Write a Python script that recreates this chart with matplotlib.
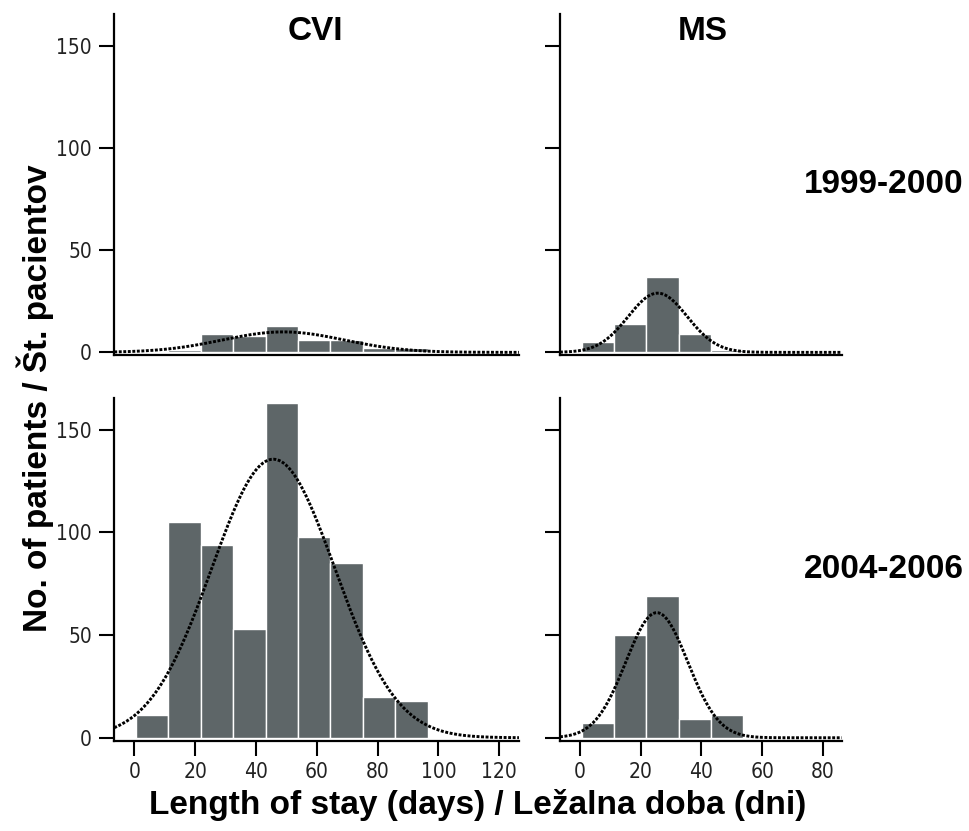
"""Length of stay histograms (CVI / MS, two periods) with normal-curve overlay."""

import numpy as np
import matplotlib
matplotlib.use("Agg")
import matplotlib.pyplot as plt
from matplotlib import rcParams, font_manager

rcParams["font.family"] = ["Liberation Sans", "DejaVu Sans"]

# bin edges shared by all panels (days)
BIN_START = 0.5
BIN_WIDTH = 10.667

# counts per bin
cvi_1999 = [0, 1, 9, 8, 13, 6, 6, 2, 2]
ms_1999 = [5, 14, 37, 9, 1]
cvi_2004 = [11, 105, 94, 53, 163, 98, 85, 20, 18]
ms_2004 = [7, 50, 69, 9, 11]

# normal fit (mean, sd)
fit_cvi_1999 = (49.0, 20.0)
fit_ms_1999 = (25.6, 9.7)
fit_cvi_2004 = (45.7, 20.3)
fit_ms_2004 = (25.3, 10.2)

col_titles = ["CVI", "MS"]
row_titles = ["1999-2000", "2004-2006"]
y_ticks = [0, 50, 100, 150]
x_ticks_cvi = [0, 20, 40, 60, 80, 100, 120]
x_ticks_ms = [0, 20, 40, 60, 80]

BAR_COLOR = "#5e6668"

# condensed face for tick numbers if one is installed
faces = font_manager.fontManager.ttflist
condensed = [f.name for f in faces if f.stretch in ("condensed", "semi-condensed")
             or "Narrow" in f.name or "Condensed" in f.name]
TICK_FONT = condensed[0] if condensed else "DejaVu Sans"


def panel(fig, rect, counts, fit, xlim, xticks, show_x, show_ylabels):
    ax = fig.add_axes(rect)
    edges = BIN_START + BIN_WIDTH * np.arange(len(counts) + 1)
    ax.bar(edges[:-1], counts, width=BIN_WIDTH, align="edge",
           color=BAR_COLOR, edgecolor="white", linewidth=1.0, zorder=2)

    mu, sd = fit
    n = sum(counts)
    xs = np.linspace(xlim[0], xlim[1], 400)
    ys = n * BIN_WIDTH * np.exp(-0.5 * ((xs - mu) / sd) ** 2) / (sd * np.sqrt(2 * np.pi))
    ax.plot(xs, ys, color="black", linewidth=2.1, linestyle=(0, (1.0, 0.55)), zorder=3)

    ax.set_xlim(*xlim)
    ax.set_ylim(-1.5, 165.5)
    ax.set_yticks(y_ticks)
    for side in ("top", "right"):
        ax.spines[side].set_visible(False)
    for side in ("left", "bottom"):
        ax.spines[side].set_linewidth(1.6)
    ax.tick_params(axis="both", direction="out", length=11, width=1.5,
                   labelsize=15)
    ax.tick_params(axis="y", pad=5)
    ax.tick_params(axis="x", pad=4)
    if show_x:
        ax.set_xticks(xticks)
    else:
        ax.set_xticks([])
    if not show_ylabels:
        ax.set_yticklabels([])
    for lab in ax.get_xticklabels() + ax.get_yticklabels():
        lab.set_fontfamily(TICK_FONT)
        lab.set_fontstretch("condensed")
        lab.set_color("#222222")
    return ax


fig = plt.figure(figsize=(9.7, 8.31), dpi=100)

left_l, left_w = 0.1178, 0.4172
right_l, right_w = 0.5773, 0.2904
top_b, top_h = 0.5723, 0.4109
bot_b, bot_h = 0.1085, 0.4127

panel(fig, [left_l, top_b, left_w, top_h], cvi_1999, fit_cvi_1999,
      (-6.6, 126.5), x_ticks_cvi, False, True)
panel(fig, [right_l, top_b, right_w, top_h], ms_1999, fit_ms_1999,
      (-6.6, 86.2), x_ticks_ms, False, False)
panel(fig, [left_l, bot_b, left_w, bot_h], cvi_2004, fit_cvi_2004,
      (-6.6, 126.5), x_ticks_cvi, True, True)
panel(fig, [right_l, bot_b, right_w, bot_h], ms_2004, fit_ms_2004,
      (-6.6, 86.2), x_ticks_ms, True, False)

bold = dict(fontsize=24, fontweight="bold", ha="center", va="center")
fig.text(0.3247, 0.9615, col_titles[0], **bold)
fig.text(0.7247, 0.9615, col_titles[1], **bold)
fig.text(0.9113, 0.7774, row_titles[0], **bold)
fig.text(0.9113, 0.3141, row_titles[1], **bold)
fig.text(0.4928, 0.0313, "Length of stay (days) / Ležalna doba (dni)", **bold)
fig.text(0.0366, 0.5205, "No. of patients / Št. pacientov", rotation=90, **bold)

fig.savefig("out.png", dpi=100, facecolor="white")
